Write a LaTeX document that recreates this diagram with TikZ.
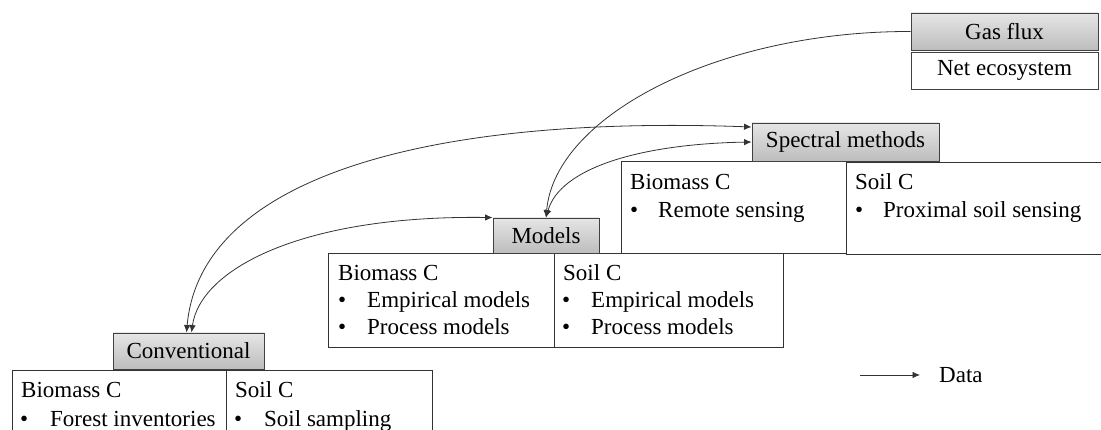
\documentclass[tikz,border=0pt]{standalone}
\usepackage{fontspec}
\setmainfont{Liberation Serif}
\usetikzlibrary{arrows.meta}
\begin{document}
\begin{tikzpicture}[x=1pt,y=-1pt,
  hdr/.style={draw=black!75, line width=0.9pt, top color=black!10, bottom color=black!26, inner sep=0pt, font=\fontsize{23}{26}\selectfont},
  whitebox/.style={draw=black!75, line width=0.9pt, fill=white, inner sep=0pt, font=\fontsize{23}{26}\selectfont},
  cell/.style={draw=black!80, line width=0.9pt, fill=white},
  txt/.style={anchor=base west, inner sep=0pt, font=\fontsize{23}{26}\selectfont},
  link/.style={draw=black!80, line width=0.8pt},
  tip/.style={-{Latex[length=7.5pt,width=6.5pt]}},
  tips/.style={{Latex[length=7.5pt,width=6.5pt]}-{Latex[length=7.5pt,width=6.5pt]}}
]
\clip (0,0) rectangle (1101,430);
\fill[white] (0,0) rectangle (1101,430);

% ---- Conventional ----
\draw[cell] (12,370) rectangle (226,450);
\draw[cell] (226,370) rectangle (432,450);
\node[hdr, minimum width=151pt, minimum height=36pt] (convH) at (188.5,351) {Conventional};
\node[txt] (cb) at (21,398) {Biomass C};
\node[txt] (cb1) at (20,426) {•};
\node[txt] (cb1t) at (50,426) {Forest inventories};
\node[txt] (cs) at (235,398) {Soil C};
\node[txt] (cs1) at (234,426) {•};
\node[txt] (cs1t) at (264,426) {Soil sampling};

% ---- Models ----
\draw[cell] (328,253) rectangle (554,347);
\draw[cell] (554,253) rectangle (783,347);
\node[hdr, minimum width=106pt, minimum height=35pt] (modH) at (546,235.5) {Models};
\node[txt] (mb) at (338,281) {Biomass C};
\node[txt] (mb1) at (338,308) {•};
\node[txt] (mb1t) at (367,308) {Empirical models};
\node[txt] (mb2) at (338,335) {•};
\node[txt] (mb2t) at (367,335) {Process models};
\node[txt] (ms) at (563,281) {Soil C};
\node[txt] (ms1) at (562,308) {•};
\node[txt] (ms1t) at (591,308) {Empirical models};
\node[txt] (ms2) at (562,335) {•};
\node[txt] (ms2t) at (591,335) {Process models};

% ---- Spectral methods ----
\draw[cell] (621,161) rectangle (846,253);
\draw[cell] (846,162) rectangle (1110,254);
\node[hdr, minimum width=187pt, minimum height=38pt] (specH) at (845.5,142) {Spectral methods};
\node[txt] (sb) at (630,190) {Biomass C};
\node[txt] (sb1) at (630,218) {•};
\node[txt] (sb1t) at (658,218) {Remote sensing};
\node[txt] (ss) at (855,190) {Soil C};
\node[txt] (ss1) at (855,218) {•};
\node[txt] (ss1t) at (883,218) {Proximal soil sensing};

% ---- Gas flux ----
\node[hdr, minimum width=187pt, minimum height=37pt] (gasH) at (1004.5,31.5) {Gas flux};
\node[whitebox, minimum width=187pt, minimum height=37pt] (netB) at (1004.5,70.5) {Net ecosystem};

% ---- connectors ----
\draw[link, tip] (gasH.west) .. controls (720,31) and (555,115) .. (modH.north);
\draw[link, tips] (specH.west) .. controls (640,144) and (560,168) .. (modH.north);
\draw[link, tips] ([yshift=15pt]specH.west) .. controls (420,115) and (200,180) .. ([xshift=-2pt]convH.north);
\draw[link, tips] (modH.north west) .. controls (300,215) and (200,270) .. ([xshift=3pt]convH.north);

% ---- legend ----
\coordinate (legA) at (860,375);
\coordinate (legB) at (920,375);
\draw[link, tip] (legA) -- (legB);
\node[txt] (legT) at (939,383) {Data};
\end{tikzpicture}
\end{document}
